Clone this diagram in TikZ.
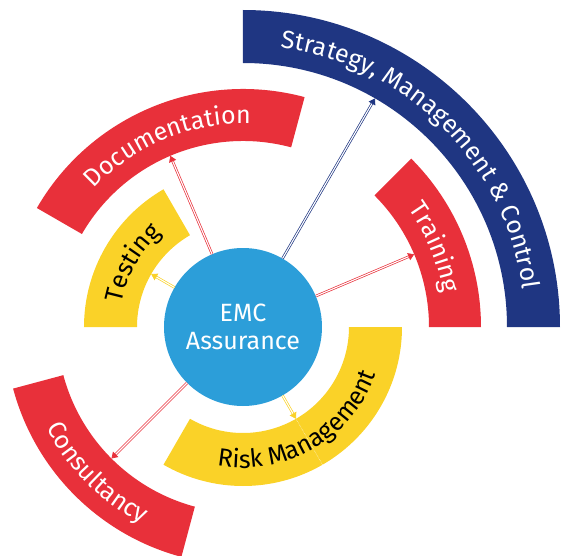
\documentclass[tikz,border=0pt]{standalone}
\usepackage{fontspec}
\setmainfont{Fira Sans}
\usetikzlibrary{arrows.meta}
\usetikzlibrary{decorations.text}
\definecolor{emcblue}{RGB}{44,158,217}
\definecolor{emcnavy}{RGB}{31,54,130}
\definecolor{emcred}{RGB}{232,48,58}
\definecolor{emcyellow}{RGB}{250,210,40}
\newcommand{\lblfont}{\fontsize{25}{25}\selectfont}
\tikzset{
    bandr/.style = {fill=emcred},
    bandy/.style = {fill=emcyellow},
    bandb/.style = {fill=emcnavy},
    centre/.style = {circle, fill=emcblue, minimum size=158pt, inner sep=0pt, align=center, text=white, font=\fontsize{25}{28}\selectfont},
    edgen/.style = {line width=0.7pt, double=white, double distance=1.1pt, -{Triangle[length=6pt,width=7.5pt]}},
    edger/.style = {edgen, draw=emcred},
    edgey/.style = {edgen, draw=emcyellow},
    edgeb/.style = {edgen, draw=emcnavy},
    labelw/.style = {decorate, decoration={text along path, text align=center, text color=white, text={|\lblfont|#1}}},
    labelk/.style = {decorate, decoration={text along path, text align=center, text color=black, text={|\lblfont|#1}}}
}
\begin{document}
\begin{tikzpicture}
\useasboundingbox (-243pt,-228pt) rectangle (320pt,327pt);
%
% outer ring
\fill[bandb] (90:317pt) arc[start angle=90, end angle=0, radius=317pt] -- (0:264pt) arc[start angle=0, end angle=90, radius=264pt] -- cycle;
% middle ring
\fill[bandr] (150:238pt) arc[start angle=150, end angle=75, radius=238pt] -- (75:186pt) arc[start angle=75, end angle=150, radius=186pt] -- cycle;
\fill[bandr] (45:238pt) arc[start angle=45, end angle=0, radius=238pt] -- (0:186pt) arc[start angle=0, end angle=45, radius=186pt] -- cycle;
\fill[bandr] (-165:238pt) arc[start angle=-165, end angle=-105, radius=238pt] -- (-105:186pt) arc[start angle=-105, end angle=-165, radius=186pt] -- cycle;
% inner ring
\fill[bandy] (180:159pt) arc[start angle=180, end angle=120, radius=159pt] -- (120:106pt) arc[start angle=120, end angle=180, radius=106pt] -- cycle;
\fill[bandy] (0:159pt) arc[start angle=0, end angle=-120, radius=159pt] -- (-120:106pt) arc[start angle=-120, end angle=0, radius=106pt] -- cycle;
\draw[white, densely dotted, line width=0.5pt] (-60:106pt) -- (-60:159pt);
%
% labels
\path[labelw={Strategy, Management {\&} Control}] (90:282pt) arc[start angle=90, end angle=0, radius=282pt];
\path[labelw={Documentation}] (150:203pt) arc[start angle=150, end angle=75, radius=203pt];
\path[labelw={Training}] (45:203pt) arc[start angle=45, end angle=0, radius=203pt];
\path[labelw={Consultancy}] (-165:221pt) arc[start angle=-165, end angle=-105, radius=221pt];
\path[labelk={Testing}] (180:124pt) arc[start angle=180, end angle=120, radius=124pt];
\path[labelk={Risk Management}] (-120:141pt) arc[start angle=-120, end angle=0, radius=141pt];
%
\node[centre] at (0,0) (emc) {EMC\\Assurance};
%
\coordinate (strat) at (60:264pt);
\coordinate (doc) at (113:186pt);
\coordinate (train) at (23:186pt);
\coordinate (cons) at (-135:186pt);
\coordinate (test) at (150:106pt);
\coordinate (risk) at (-60:106pt);
%
\draw[edgeb] (emc) -- (strat);
\draw[edger] (emc) -- (doc);
\draw[edger] (emc) -- (train);
\draw[edger] (emc) -- (cons);
\draw[edgey] (emc) -- (test);
\draw[edgey] (emc) -- (risk);

\end{tikzpicture}
\end{document}
